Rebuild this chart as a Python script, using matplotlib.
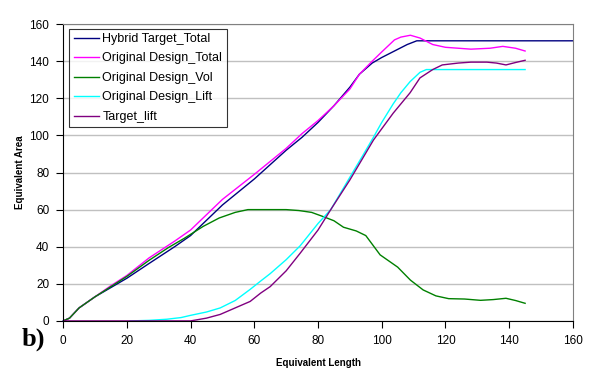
import matplotlib.pyplot as plt

plt.rcParams['font.family'] = ['Liberation Sans', 'DejaVu Sans']

# Hybrid Target_Total
x_hyb = [0, 2, 5, 10, 15, 20, 27, 35, 40, 50, 60, 70, 75, 80, 85, 90, 93, 97, 100, 104, 108, 111, 160]
y_hyb = [0, 1.5, 7, 13, 18, 23, 31, 40, 46, 62.5, 76.5, 92, 99, 107, 116, 126, 133, 139, 142, 145.5, 149, 151, 151]

# Original Design_Total
x_tot = [0, 2, 5, 10, 15, 20, 27, 35, 40, 50, 60, 70, 75, 80, 85, 90, 93, 97, 100, 104, 106, 109,
         112, 116, 120, 128, 134, 138, 142, 145]
y_tot = [0, 1.5, 7, 13, 19, 24.5, 34, 43, 49, 65.5, 79, 93, 101, 108, 116, 125, 133, 140, 145, 151.5,
         153, 154, 152.5, 149, 147.5, 146.5, 147, 148, 147, 145.5]

# Original Design_Vol
x_vol = [0, 2, 5, 10, 15, 20, 27, 33, 38, 44, 49, 54, 58, 65, 70, 74, 78, 82, 85, 88, 92, 95, 99.5,
         105, 109, 113, 117, 121, 126, 131, 135, 139, 142, 145]
y_vol = [0, 1.5, 7, 13, 18.5, 24, 32.7, 39.5, 44.5, 51, 55.5, 58.5, 60, 60, 60, 59.5, 58.5, 56, 54,
         50.5, 48.5, 46, 35.6, 29, 22, 16.7, 13.5, 12, 11.8, 11.1, 11.5, 12.2, 11, 9.5]

# Original Design_Lift
x_lift = [21, 27, 32.5, 37, 40, 45, 49.3, 54, 58.7, 62, 65, 70, 74.4, 80, 84, 89.5, 94, 97.4, 100,
          103.6, 106, 108.9, 112, 114, 120, 145]
y_lift = [0, 0.3, 0.9, 1.8, 3, 4.8, 7, 11, 17, 21.5, 25.5, 33, 40.5, 52.5, 60, 76, 89, 99, 107,
          117, 123, 129, 134, 135.5, 135.5, 135.5]

# Target_lift
x_tl = [0, 40, 45, 49.3, 54, 58.7, 62, 65, 70, 74.4, 80, 84, 90, 97.4, 103.6, 108.9, 112, 116, 119,
        124, 128, 133, 136, 139, 142, 145]
y_tl = [0, 0, 1.5, 3.5, 7, 10.5, 15, 18.5, 27, 36.5, 49, 60, 76, 97.5, 112, 123, 131, 135.5, 138,
        139, 139.5, 139.5, 139, 138, 139.3, 140.5]

fig = plt.figure(figsize=(5.9, 3.71), dpi=100)
ax = fig.add_axes([0.107, 0.135, 0.864, 0.8])

ax.plot(x_hyb, y_hyb, color='#000080', lw=1, label='Hybrid Target_Total', clip_on=False)
ax.plot(x_tot, y_tot, color='#FF00FF', lw=1, label='Original Design_Total')
ax.plot(x_vol, y_vol, color='#008000', lw=1, label='Original Design_Vol')
ax.plot(x_lift, y_lift, color='#00FFFF', lw=1, label='Original Design_Lift')
ax.plot(x_tl, y_tl, color='#800080', lw=1, label='Target_lift')

ax.set_xlim(0, 160)
ax.set_ylim(0, 160)
ax.set_xticks(range(0, 161, 20))
ax.set_yticks(range(0, 161, 20))
ax.tick_params(labelsize=8.5, direction='out', length=5, width=0.8, pad=5)
ax.yaxis.grid(True, color='#c0c0c0', lw=1)
ax.set_axisbelow(True)

ax.spines['top'].set_color('#808080')
ax.spines['right'].set_color('#808080')

ax.set_xlabel('Equivalent Length', fontsize=7, fontweight='bold', labelpad=8)
ax.set_ylabel('Equivalent Area', fontsize=7, fontweight='bold', labelpad=3)

leg = ax.legend(loc='upper left', bbox_to_anchor=(0.012, 0.985), borderaxespad=0,
                fontsize=9, frameon=True, fancybox=False, handlelength=2.0,
                handletextpad=0.3, labelspacing=0.6, borderpad=0.35)
leg.get_frame().set_edgecolor('black')
leg.get_frame().set_linewidth(0.8)

fig.text(0.036, 0.068, 'b)', fontsize=19, fontweight='bold', family='Liberation Serif')

fig.savefig('out.png', dpi=100)
